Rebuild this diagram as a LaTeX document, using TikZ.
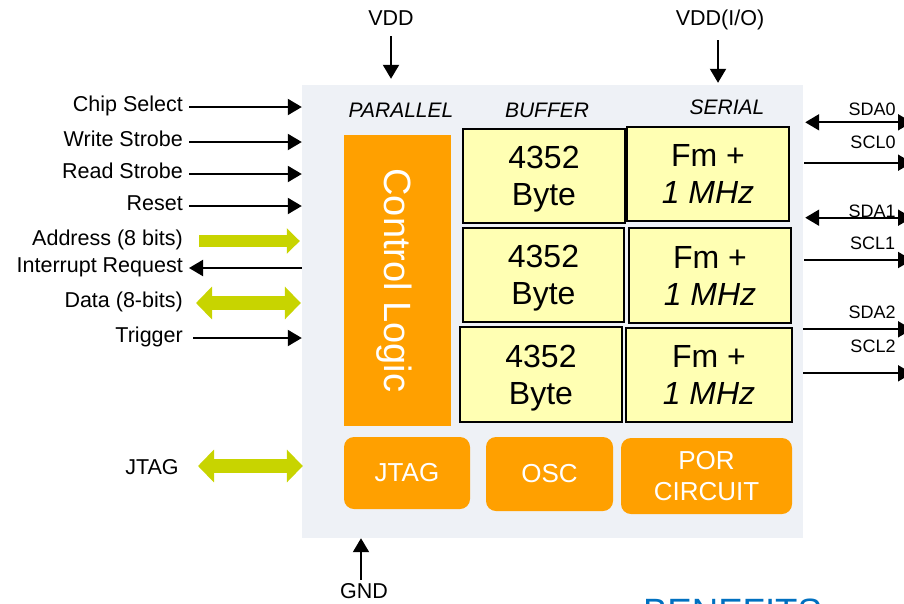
\documentclass[tikz,border=0pt]{standalone}
\usepackage{fontspec}
\setmainfont{Liberation Sans}
\usetikzlibrary{arrows.meta}
\definecolor{chipbg}{HTML}{EEF1F6}
\definecolor{org}{HTML}{FFA000}
\definecolor{ylw}{HTML}{FFFFB3}
\definecolor{lime}{HTML}{C8D400}
\definecolor{bblue}{HTML}{0070C0}
\tikzset{
 lbl/.style={font=\fontsize{21.5}{25}\selectfont, inner sep=0pt},
 hdr/.style={font=\fontsize{21}{25}\selectfont\itshape, inner sep=0pt},
 rlbl/.style={font=\fontsize{18}{21}\selectfont, inner sep=0pt},
 sig/.style={line width=2pt, -{Triangle[length=14pt,width=16pt]}},
 dsig/.style={line width=2pt, {Triangle[length=14pt,width=16pt]}-{Triangle[length=14pt,width=16pt]}},
 ybox/.style={draw=black, line width=1.5pt, fill=ylw, align=center, font=\fontsize{32}{37}\selectfont, inner sep=0pt, text depth=0pt},
 obox/.style={fill=org, rounded corners=10pt, text=white, align=center, font=\fontsize{26}{31.5}\selectfont, inner sep=0pt},
 gsmall/.style={draw=lime, line width=12pt, -{Triangle[length=13pt,width=25pt]}},
 gbig/.style={draw=lime, line width=14.5pt, {Triangle[length=16pt,width=32pt]}-{Triangle[length=16pt,width=32pt]}},
}
\begin{document}
\begin{tikzpicture}[x=1pt,y=-1pt]
\useasboundingbox (0,0) rectangle (904,603);
\clip (0,0) rectangle (904,603);

% chip background
\node[fill=chipbg, minimum width=501pt, minimum height=453pt, inner sep=0pt] (chip) at (552.5,311.5) {};

% headers
\node[hdr] (hpar) at (401,110) {PARALLEL};
\node[hdr] (hbuf) at (547,110) {BUFFER};
\node[hdr] (hser) at (727,107) {SERIAL};

% control logic
\node[fill=org, minimum width=291pt, minimum height=107pt, inner sep=0pt, rotate=-90,
      text=white, font=\fontsize{38}{40}\selectfont, text height=27pt, text depth=0pt]
      (ctrl) at (397.5,280.5) {Control Logic};

% buffers
\node[ybox, minimum width=162pt, minimum height=94pt] (b1) at (544,176) {4352\\Byte};
\node[ybox, minimum width=161pt, minimum height=94pt] (b2) at (543.5,275) {4352\\Byte};
\node[ybox, minimum width=162pt, minimum height=95pt] (b3) at (541,374.5) {4352\\Byte};
% serial
\node[ybox, minimum width=162pt, minimum height=94pt] (s1) at (708,174) {Fm +\\\textit{1 MHz}};
\node[ybox, minimum width=162pt, minimum height=95pt] (s2) at (710,275.5) {Fm +\\\textit{1 MHz}};
\node[ybox, minimum width=166pt, minimum height=94pt, line width=2pt] (s3) at (709,375) {Fm +\\\textit{1 MHz}};

% bottom blocks
\node[obox, minimum width=126pt, minimum height=72pt] (jtagb) at (407,473) {JTAG};
\node[obox, minimum width=127pt, minimum height=74pt] (osc) at (549.5,474) {OSC};
\node[obox, minimum width=171pt, minimum height=76pt] (por) at (706.5,476) {POR\\CIRCUIT};

% power pins
\node[lbl] (vdd) at (391,18.5) {VDD};
\draw[sig] ([yshift=-10pt]vdd.south) -- ([yshift=6pt]vdd.south |- chip.north);
\node[lbl] (vddio) at (720,20) {VDD(I/O)};
\coordinate (vddioa) at (718,40);
\draw[sig] (vddioa) -- ([yshift=2pt]vddioa |- chip.north);
\node[lbl] (gnd) at (364,591) {GND};
\coordinate (gnda) at (361,580);
\draw[sig] (gnda) -- (gnda |- chip.south);

% left signals
\node[lbl, anchor=mid east] (cs)   at (183,109) {Chip Select};
\node[lbl, anchor=mid east] (ws)   at (183,144) {Write Strobe};
\node[lbl, anchor=mid east] (rs)   at (183,176) {Read Strobe};
\node[lbl, anchor=mid east] (rst)  at (183,208) {Reset};
\node[lbl, anchor=mid east] (addr) at (183,243) {Address (8 bits)};
\node[lbl, anchor=mid east] (irq)  at (183,270) {Interrupt Request};
\node[lbl, anchor=mid east] (data) at (183,305) {Data (8-bits)};
\node[lbl, anchor=mid east] (trg)  at (183,340) {Trigger};
\node[lbl] (jtagl) at (152,467) {JTAG};

\draw[sig] ([xshift=6pt,yshift=2pt]cs.mid east) -- ([yshift=2pt]cs.mid east -| chip.west);
\draw[sig] ([xshift=6pt,yshift=2pt]ws.mid east) -- ([yshift=2pt]ws.mid east -| chip.west);
\draw[sig] ([xshift=6pt,yshift=2pt]rs.mid east) -- ([yshift=2pt]rs.mid east -| chip.west);
\draw[sig] ([xshift=6pt,yshift=2pt]rst.mid east) -- ([yshift=2pt]rst.mid east -| chip.west);
\draw[gsmall] ([xshift=16pt,yshift=2pt]addr.mid east) -- ([xshift=-2pt,yshift=2pt]addr.mid east -| chip.west);
\draw[sig] ([yshift=2pt]irq.mid east -| chip.west) -- ([xshift=6pt,yshift=2pt]irq.mid east);
\draw[gbig] ([xshift=13pt,yshift=2pt]data.mid east) -- ([xshift=-1pt,yshift=2pt]data.mid east -| chip.west);
\draw[sig] ([xshift=10pt,yshift=2pt]trg.mid east) -- ([yshift=2pt]trg.mid east -| chip.west);
\coordinate (jtaga) at (198,466);
\draw[gbig] (jtaga) -- ([xshift=1pt]jtaga -| chip.west);

% right signals
\node[rlbl] (sda0) at (872,109) {SDA0};
\node[rlbl] (scl0) at (873,142.5) {SCL0};
\node[rlbl] (sda1) at (872,211) {SDA1};
\node[rlbl] (scl1) at (872.5,243) {SCL1};
\node[rlbl] (sda2) at (872,312.5) {SDA2};
\node[rlbl] (scl2) at (873,346) {SCL2};
\coordinate (r0) at (912,122.3);
\coordinate (r1) at (912,162.7);
\coordinate (r2) at (912,217.7);
\coordinate (r3) at (912,260);
\coordinate (r4) at (912,329.3);
\coordinate (r5) at (912,373.3);
\draw[dsig] ([xshift=2pt]r0 -| chip.east) -- (r0);
\draw[sig] ([xshift=1pt]r1 -| chip.east) -- (r1);
\draw[dsig] ([xshift=2pt]r2 -| chip.east) -- (r2);
\draw[sig] ([xshift=1pt]r3 -| chip.east) -- (r3);
\draw[sig] (r4 -| chip.east) -- (r4);
\draw[sig] (r5 -| chip.east) -- (r5);

% cut-off heading
\node[anchor=base, inner sep=0pt, text=bblue, font=\fontsize{36.6}{40}\selectfont] (ben) at (732.5,624) {BENEFITS};
\end{tikzpicture}
\end{document}
